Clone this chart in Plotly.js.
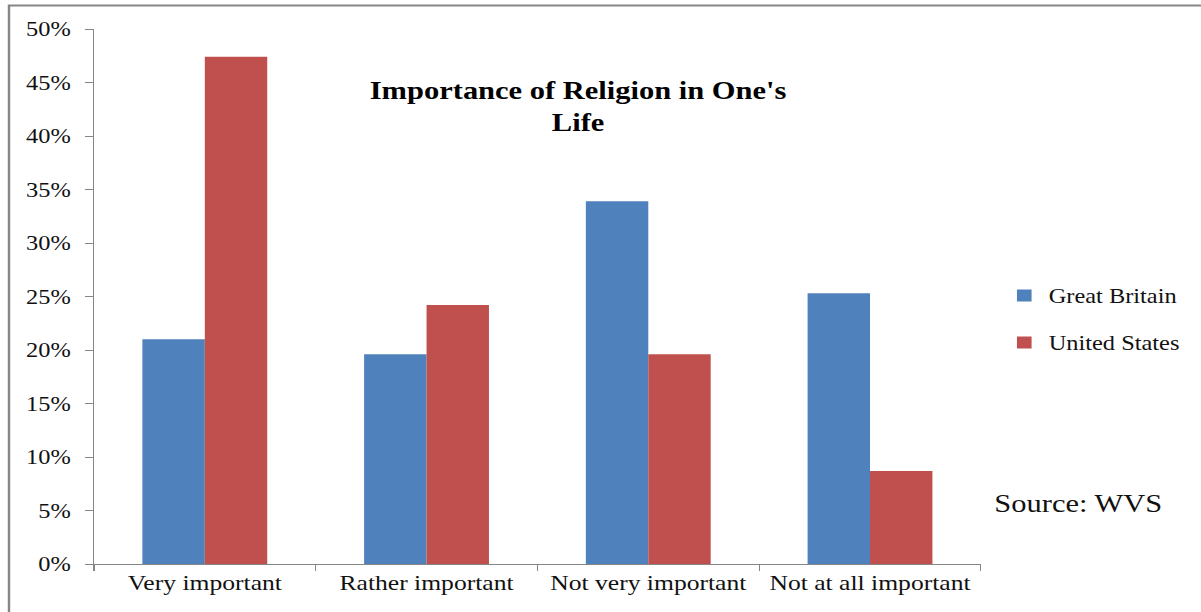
<!DOCTYPE html>
<html>
<head>
<meta charset="utf-8">
<script src="https://cdn.plot.ly/plotly-3.0.1.min.js"></script>
<style>
  html, body { margin: 0; padding: 0; background: #ffffff; overflow: hidden; }
  /* The chart is laid out narrower and widened horizontally, giving the broad serif lettering */
  #chart { width: 985px; height: 612px; transform: scaleX(1.22); transform-origin: 0 0; }
</style>
</head>
<body>
<div id="chart"></div>
<script>
// Share of respondents (%) by how important religion is in their life
const categories = ["Very important", "Rather important", "Not very important", "Not at all important"];
const greatBritain = [21.0, 19.6, 33.9, 25.3];
const unitedStates = [47.4, 24.2, 19.6, 8.7];
const seriesNames = ["Great Britain", "United States"];
const yTicks = [0, 5, 10, 15, 20, 25, 30, 35, 40, 45, 50];

const SX = 1.22;            // horizontal widening applied by CSS
const W = 985, H = 612;
const L = 93.5 / SX, R = W - 981 / SX, T = 29.3, B = H - 563.7;
const plotW = W - L - R, plotH = H - T - B;
// helpers: on-screen pixel position -> paper coordinates
const pxX = px => (px / SX - L) / plotW;
const pxY = py => 1 - (py - T) / plotH;

const FONT = '"Liberation Serif", "Times New Roman", serif';
const AXIS_GREY = '#868686';

const traces = [
  { type: 'bar', name: seriesNames[0], x: categories, y: greatBritain,
    marker: { color: '#4F81BD', line: { width: 0 } }, legendgroup: 'gb' },
  { type: 'bar', name: seriesNames[1], x: categories, y: unitedStates,
    marker: { color: '#C0504D', line: { width: 0 } }, legendgroup: 'us' }
];

const layout = {
  width: W, height: H,
  margin: { l: L, r: R, t: T, b: B, pad: 0, autoexpand: false },
  paper_bgcolor: '#ffffff', plot_bgcolor: '#ffffff',
  barmode: 'group', bargap: 0.437, bargroupgap: 0,
  font: { family: FONT, color: '#111111' },
  showlegend: true,
  legend: {
    x: pxX(1000), xanchor: 'left', y: pxY(276), yanchor: 'top',
    font: { family: FONT, size: 20, color: '#111111' },
    traceorder: 'grouped', tracegroupgap: 18,
    bgcolor: 'rgba(0,0,0,0)', borderwidth: 0, itemwidth: 30
  },
  xaxis: {
    type: 'category', showgrid: false, zeroline: false,
    showline: true, linecolor: AXIS_GREY, linewidth: 1,
    ticks: 'outside', tickson: 'boundaries', ticklen: 6, tickcolor: AXIS_GREY, tickwidth: 1,
    tickfont: { family: FONT, size: 21, color: '#111111' },
    fixedrange: true
  },
  yaxis: {
    range: [0, 50], tickvals: yTicks, ticktext: yTicks.map(v => v + '%'),
    showgrid: false, zeroline: false,
    showline: true, linecolor: AXIS_GREY, linewidth: 1,
    ticks: 'outside', ticklen: 6, tickcolor: AXIS_GREY, tickwidth: 1,
    ticklabelstandoff: 8,
    tickfont: { family: FONT, size: 20, color: '#111111' },
    fixedrange: true
  },
  shapes: [
    // chart frame (top and left edges)
    { type: 'rect', xref: 'paper', yref: 'paper', layer: 'below',
      x0: pxX(8.5), x1: pxX(1400), y0: pxY(800), y1: pxY(5.8),
      line: { color: AXIS_GREY, width: 2 }, fillcolor: 'rgba(0,0,0,0)' }
  ],
  annotations: [
    { xref: 'paper', yref: 'paper', x: pxX(578), y: pxY(107.5),
      xanchor: 'center', yanchor: 'middle', align: 'center', showarrow: false,
      text: "<b>Importance of Religion in One's<br>Life</b>",
      font: { family: FONT, size: 25, color: '#000000' } },
    { xref: 'paper', yref: 'paper', x: pxX(1078.5), y: pxY(503),
      xanchor: 'center', yanchor: 'middle', showarrow: false,
      text: 'Source: WVS',
      font: { family: FONT, size: 25, color: '#111111' } }
  ]
};

Plotly.newPlot('chart', traces, layout, { displayModeBar: false, staticPlot: true });
</script>
</body>
</html>
